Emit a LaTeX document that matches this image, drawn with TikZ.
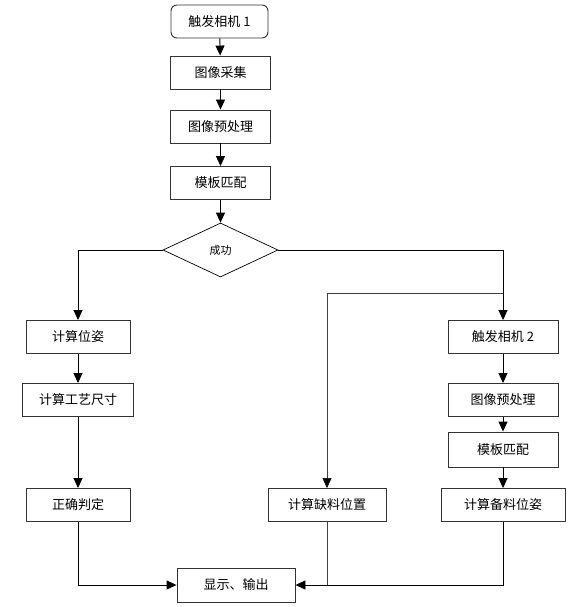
\documentclass[tikz,border=0pt]{standalone}
\usepackage{fontspec}
\setmainfont{Noto Sans CJK SC}
\usetikzlibrary{positioning,arrows.meta,shapes.geometric}

\begin{document}
\begin{tikzpicture}[x=1pt,y=-1pt,font=\fontsize{13}{15}\selectfont,
   every node/.style={draw=black!80,line width=0.9pt,minimum height=33pt,inner sep=2pt},
   box/.style={rectangle},
   startbox/.style={rectangle,rounded corners=6pt},
   decision/.style={diamond,draw=black,line width=0.7pt,minimum width=115pt,minimum height=54pt,inner sep=0pt,font=\fontsize{11}{12}\selectfont},
   flow/.style={draw,line width=0.9pt,-{Triangle[length=10pt,width=9pt]}},
   tapline/.style={draw,black!75,line width=0.6pt}]
  \useasboundingbox (0,0) rectangle (576,607);
  % main column
  \node[startbox,minimum width=97pt] (cam1) at (219.5,21.5) {触发相机 1};
  \node[box,minimum width=100pt] (grab) at (220.5,72.5) {图像采集};
  \node[box,minimum width=100pt] (pre1) at (220.5,126.5) {图像预处理};
  \node[box,minimum width=100pt] (match1) at (220.5,183) {模板匹配};
  \node[decision] (ok) at (220.5,250) {成功};
  % left branch
  \node[box,minimum width=104pt] (pose) at (78,337) {计算位姿};
  \node[box,minimum width=111pt] (craft) at (78,400) {计算工艺尺寸};
  \node[box,minimum width=104pt] (judge) at (78,505) {正确判定};
  % middle and right branch
  \node[box,minimum width=118pt] (lack) at (327,505) {计算缺料位置};
  \node[box,minimum width=110pt] (cam2) at (503,337) {触发相机 2};
  \node[box,minimum width=110pt] (pre2) at (503,400) {图像预处理};
  \node[box,minimum width=110pt,minimum height=35pt] (match2) at (503,449.5) {模板匹配};
  \node[box,minimum width=124pt] (prep) at (503,505) {计算备料位姿};
  \node[box,minimum width=118pt,minimum height=34pt] (out) at (236,585) {显示、输出};
  \coordinate (tap) at (503,293);

  \draw[flow] (cam1) -- (grab);
  \draw[flow] (grab) -- (pre1);
  \draw[flow] (pre1) -- (match1);
  \draw[flow] (match1) -- (ok);
  \draw[flow] (ok.west) -| (pose);
  \draw[flow] (ok.east) -| (cam2);
  \draw[flow] (pose) -- (craft);
  \draw[flow] (craft) -- (judge);
  \draw[flow] (cam2) -- (pre2);
  \draw[flow] (pre2) -- (match2);
  \draw[flow] (match2) -- (prep);
  \draw[tapline,-{Triangle[length=10pt,width=9pt,color=black]}] (tap) -| (lack);
  \draw[flow] (judge) |- (out);
  \draw[flow] (prep) |- (out);
  \draw[tapline] (lack) -- (lack |- out);
\end{tikzpicture}
\end{document}
